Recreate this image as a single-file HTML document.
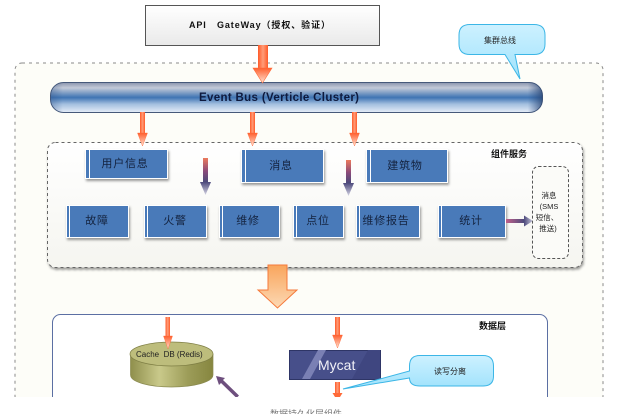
<!DOCTYPE html>
<html>
<head>
<meta charset="utf-8">
<style>
html,body{margin:0;padding:0;background:#fff;width:622px;height:414px;overflow:hidden}
svg{display:block}
text{font-family:"Liberation Sans","Noto Sans CJK SC",sans-serif}
</style>
</head>
<body>
<svg width="622" height="414" viewBox="0 0 622 414" xmlns="http://www.w3.org/2000/svg">
<defs>
<linearGradient id="api" x1="0" y1="0" x2="0" y2="1"><stop offset="0" stop-color="#fff"/><stop offset="1" stop-color="#e9e9e9"/></linearGradient>
<linearGradient id="bus" x1="0" y1="0" x2="0" y2="1">
<stop offset="0" stop-color="#8a94ad"/><stop offset=".18" stop-color="#c3cad8"/><stop offset=".5" stop-color="#3f74b3"/><stop offset=".72" stop-color="#a3bfdf"/><stop offset="1" stop-color="#e6edf8"/>
</linearGradient>
<linearGradient id="busr" x1="0" y1="0" x2="1" y2="0"><stop offset="0" stop-color="#2d4f85" stop-opacity=".35"/><stop offset=".025" stop-color="#2d4f85" stop-opacity="0"/><stop offset=".97" stop-color="#2d4f85" stop-opacity="0"/><stop offset="1" stop-color="#24406f" stop-opacity=".75"/></linearGradient>
<linearGradient id="org" x1="0" y1="0" x2="1" y2="0"><stop offset="0" stop-color="#ff5a28"/><stop offset=".5" stop-color="#ff9c78"/><stop offset="1" stop-color="#ff5a28"/></linearGradient>
<linearGradient id="orgh" x1="0" y1="0" x2="0" y2="1"><stop offset="0" stop-color="#ff5f2e"/><stop offset="1" stop-color="#ffe2d2"/></linearGradient>
<linearGradient id="big" x1="0" y1="0" x2="0" y2="1"><stop offset="0" stop-color="#f9a55c"/><stop offset="1" stop-color="#fcd9b5"/></linearGradient>
<linearGradient id="pur" x1="0" y1="0" x2="0" y2="1"><stop offset="0" stop-color="#ec7a5c"/><stop offset=".55" stop-color="#8a4a7a"/><stop offset="1" stop-color="#4a4a7a"/></linearGradient>
<linearGradient id="purh" x1="0" y1="0" x2="0" y2="1"><stop offset="0" stop-color="#4d4a7c"/><stop offset="1" stop-color="#d5d5e4"/></linearGradient>
<linearGradient id="purx" x1="0" y1="0" x2="1" y2="0"><stop offset="0" stop-color="#c0608a"/><stop offset="1" stop-color="#4d4a7c"/></linearGradient>
<linearGradient id="purxh" x1="0" y1="0" x2="1" y2="0"><stop offset="0" stop-color="#4d4a7c"/><stop offset="1" stop-color="#c8c8da"/></linearGradient>
<linearGradient id="call" x1="0" y1="0" x2="0" y2="1"><stop offset="0" stop-color="#cdf1ff"/><stop offset="1" stop-color="#9fe2fc"/></linearGradient>
<linearGradient id="cyl" x1="0" y1="0" x2="1" y2="0"><stop offset="0" stop-color="#8f8f4c"/><stop offset=".35" stop-color="#c9c98a"/><stop offset=".7" stop-color="#9c9c58"/><stop offset="1" stop-color="#86863f"/></linearGradient>
<linearGradient id="grp" x1="0" y1="0" x2="0" y2="1"><stop offset="0" stop-color="#fff"/><stop offset="1" stop-color="#f5f5f0"/></linearGradient>
<filter id="sh" x="-10%" y="-10%" width="125%" height="130%"><feDropShadow dx="1" dy="2" stdDeviation="1.2" flood-color="#000" flood-opacity=".4"/></filter>
</defs>

<!-- outer container -->
<rect x="15" y="63" width="588" height="340" rx="7" fill="#fdfdf8" stroke="#8a8a8a" stroke-width="1" stroke-dasharray="3 4"/>

<!-- API box -->
<rect x="145.5" y="5.5" width="234" height="40" fill="url(#api)" stroke="#555"/>
<text x="189" y="28" font-size="9" fill="#111" font-weight="bold" textLength="141" lengthAdjust="spacing" xml:space="preserve">API   GateWay（授权、验证）</text>

<!-- Event bus -->
<rect x="50.5" y="82.5" width="492" height="30" rx="13" fill="url(#bus)" stroke="#46597a"/>
<rect x="50.5" y="82.5" width="492" height="30" rx="13" fill="url(#busr)"/>
<text x="199" y="101" font-size="11.5" font-weight="bold" fill="#0e1a3e" textLength="160" lengthAdjust="spacing">Event Bus (Verticle Cluster)</text>

<!-- big top arrow -->
<path d="M258 45H268V68H258Z" fill="url(#org)"/>
<path d="M253 68H272L262.5 83Z" fill="url(#orgh)" stroke="#ff6a38" stroke-width=".6"/>

<!-- callout 1 -->
<path d="M470 24.5H534Q545 24.5 545 35V44Q545 54.5 534 54.5H515L520 79L505 54.5H470Q459 54.5 459 44V35Q459 24.5 470 24.5Z" fill="url(#call)" stroke="#3cb6e6"/>
<text x="484" y="43" font-size="8" fill="#222">集群总线</text>

<!-- group box -->
<rect x="47.5" y="142.5" width="535" height="125" rx="8" fill="url(#grp)" stroke="#666" stroke-dasharray="3 3" filter="url(#sh)"/>
<text x="491" y="157" font-size="9" font-weight="bold" fill="#111">组件服务</text>

<!-- small orange arrows -->
<g>
<path d="M140 112H145V133H140Z" fill="url(#org)"/><path d="M137.500 133H147.500L142.500 146Z" fill="url(#orgh)" stroke="#ff6a38" stroke-width=".4"/>
<path d="M250 112H255V133H250Z" fill="url(#org)"/><path d="M247.500 133H257.500L252.500 146Z" fill="url(#orgh)" stroke="#ff6a38" stroke-width=".4"/>
<path d="M352 112H357V133H352Z" fill="url(#org)"/><path d="M349.500 133H359.500L354.500 146Z" fill="url(#orgh)" stroke="#ff6a38" stroke-width=".4"/>
</g>

<!-- service boxes -->
<g filter="url(#sh)">
<g fill="#4a7ab9" stroke="#fff" stroke-width="1">
<rect x="85.5" y="149.5" width="82" height="29"/>
<rect x="241.5" y="149.5" width="82" height="33"/>
<rect x="366.5" y="149.5" width="81" height="33"/>
<rect x="66.5" y="205.5" width="62" height="32"/>
<rect x="144.5" y="205.5" width="62" height="32"/>
<rect x="219.5" y="205.5" width="60" height="32"/>
<rect x="293.5" y="205.5" width="50" height="32"/>
<rect x="356.5" y="205.5" width="63" height="32"/>
<rect x="438.5" y="205.5" width="67" height="32"/>
</g>
</g>
<g stroke="#fff" stroke-width="1">
<line x1="89.5" y1="150" x2="89.5" y2="178"/>
<line x1="245.5" y1="150" x2="245.5" y2="182"/>
<line x1="370.5" y1="150" x2="370.5" y2="182"/>
<line x1="69.5" y1="206" x2="69.5" y2="237"/>
<line x1="147.5" y1="206" x2="147.5" y2="237"/>
<line x1="222.5" y1="206" x2="222.5" y2="237"/>
<line x1="296.5" y1="206" x2="296.5" y2="237"/>
<line x1="359.5" y1="206" x2="359.5" y2="237"/>
<line x1="441.5" y1="206" x2="441.5" y2="237"/>
</g>
<g font-size="11" fill="#14233f" text-anchor="middle">
<text x="125" y="167" letter-spacing=".8">用户信息</text>
<text x="281" y="169" letter-spacing=".8">消息</text>
<text x="405" y="169" letter-spacing=".8">建筑物</text>
<text x="97" y="224" letter-spacing=".8">故障</text>
<text x="175" y="224" letter-spacing=".8">火警</text>
<text x="248" y="224" letter-spacing=".8">维修</text>
<text x="318" y="224" letter-spacing=".8">点位</text>
<text x="386" y="224" letter-spacing=".8">维修报告</text>
<text x="471" y="224" letter-spacing=".8">统计</text>
</g>

<!-- purple arrows -->
<path d="M203 158H208V182H203Z" fill="url(#pur)"/><path d="M200 182H211L205.500 195Z" fill="url(#purh)"/>
<path d="M346 160H351V183H346Z" fill="url(#pur)"/><path d="M343 183H354L348.500 196Z" fill="url(#purh)"/>
<path d="M506 219H524V223H506Z" fill="url(#purx)"/><path d="M524 215.500V226.500L533 221Z" fill="url(#purxh)"/>

<!-- SMS box -->
<rect x="532.5" y="166.5" width="36" height="92" rx="6" fill="#fbfbf8" stroke="#555" stroke-dasharray="3 2"/>
<g font-size="7.5" fill="#222" text-anchor="middle">
<text x="549" y="198">消息</text>
<text x="549" y="209">(SMS</text>
<text x="547" y="220">短信、</text>
<text x="548" y="231">推送)</text>
</g>

<!-- big orange arrow -->
<path d="M268 265H287V290H297L277.5 308L258 290H268Z" fill="url(#big)" stroke="#f5793a" stroke-width="1"/>

<!-- data layer -->
<rect x="52.5" y="314.5" width="495" height="100" rx="8" fill="#fff" stroke="#5b6fa3"/>
<text x="479" y="329" font-size="9" font-weight="bold" fill="#111">数据层</text>

<!-- cylinder -->
<path d="M130.5 354V375C130.5 382 149 387 171.500 387S213 382 213 375V354Z" fill="url(#cyl)" stroke="#8a8a50" stroke-width=".7"/>
<ellipse cx="171.500" cy="354" rx="41.500" ry="12" fill="#bdbd7c" stroke="#7e7e44" stroke-width=".7"/>
<text x="136" y="357" font-size="8" fill="#222" xml:space="preserve">Cache  DB (Redis)</text>
<path d="M165.500 317H170V336H165.500Z" fill="url(#org)"/><path d="M163.500 336H172.500L168 349Z" fill="url(#orgh)" stroke="#ff6a38" stroke-width=".4"/>

<!-- Mycat arrows -->
<path d="M335 317H340V335H335Z" fill="url(#org)"/><path d="M332.500 335H342.500L337.500 348Z" fill="url(#orgh)" stroke="#ff6a38" stroke-width=".4"/>
<path d="M335 382H340V393H335Z" fill="url(#org)"/><path d="M332.500 393H342.500L340 397H335Z" fill="#ff6a38"/>

<!-- Mycat -->
<rect x="289.500" y="350.500" width="91" height="29" fill="#474f8a" stroke="#2e3566"/>
<path d="M302 379L318 350H326L310 379Z" fill="#7a80b4"/>
<path d="M352 379L368 350H380V379Z" fill="#3f4680"/>
<text x="318" y="370" font-size="14" fill="#f2f2f8">Mycat</text>

<!-- callout 2 -->
<path d="M420 355.500H483Q493.500 355.500 493.500 366V376Q493.500 386 483 386H420Q409.500 386 409.500 378L343 389L409.500 371V366Q409.500 355.500 420 355.500Z" fill="url(#call)" stroke="#3cb6e6"/>
<text x="434" y="374" font-size="8" fill="#222">读写分离</text>

<!-- diagonal purple arrow -->
<path d="M239 395.500L223 380L225 378L216 376L219 385L221 383L236.500 398Z" fill="#6e4f7e"/>

<!-- bottom white strip -->
<rect x="0" y="397" width="622" height="17" fill="#fff"/>
<text x="270" y="417" font-size="9" fill="#777">数据持久化层组件</text>
</svg>
</body>
</html>
